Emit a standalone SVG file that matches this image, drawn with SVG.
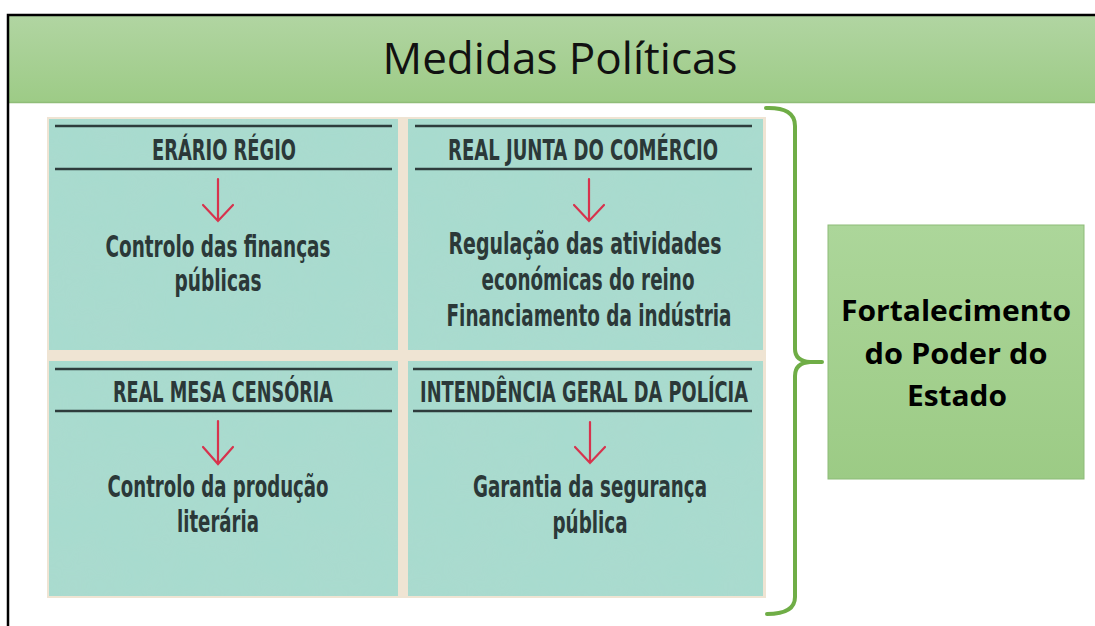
<svg xmlns="http://www.w3.org/2000/svg" width="1095" height="626" viewBox="0 0 1095 626">
  <defs>
    <linearGradient id="hdr" x1="0" y1="0" x2="0" y2="1">
      <stop offset="0" stop-color="#b1d5a2"/>
      <stop offset="1" stop-color="#9dcb86"/>
    </linearGradient>
    <linearGradient id="box" x1="0" y1="0" x2="0" y2="1">
      <stop offset="0" stop-color="#acd69a"/>
      <stop offset="1" stop-color="#9ccb85"/>
    </linearGradient>
    <filter id="tex" x="0" y="0" width="1" height="1">
      <feTurbulence type="fractalNoise" baseFrequency="0.02" numOctaves="3" seed="4" result="n"/>
      <feColorMatrix in="n" type="matrix" values="0 0 0 0 0.45  0 0 0 0 0.68  0 0 0 0 0.62  0 0 0 0.3 -0.05" result="c"/>
      <feComposite in="c" in2="SourceGraphic" operator="in" result="m"/>
      <feMerge><feMergeNode in="SourceGraphic"/><feMergeNode in="m"/></feMerge>
    </filter>
  </defs>
  <style>
    .cell { fill: #a8dbcf; }
    .rule { stroke: #2e3c3c; stroke-width: 2.5; }
    .ttl { font-family: "DejaVu Sans Condensed", "Liberation Sans", sans-serif; font-weight: bold; font-size: 29px; fill: #2b3838; text-anchor: middle; }
    .body { font-family: "DejaVu Sans Condensed", "Liberation Sans", sans-serif; font-weight: bold; font-size: 31px; fill: #2b3838; text-anchor: middle; }
    .arr { stroke: #d7334d; stroke-width: 2.2; fill: none; stroke-linecap: round; stroke-linejoin: miter; }
    .brace { stroke: #6fad46; stroke-width: 4; fill: none; stroke-linecap: round; stroke-linejoin: round; }
    .big { font-family: "Open Sans", "Noto Sans", sans-serif; font-weight: bold; font-size: 29px; fill: #000; text-anchor: middle; }
  </style>

  <rect x="0" y="0" width="1095" height="626" fill="#ffffff"/>

  <g id="header">
    <rect x="9" y="15" width="1086" height="88" fill="url(#hdr)"/>
    <line x1="9" y1="102.5" x2="1095" y2="102.5" stroke="#8fbd78" stroke-width="1.5"/>
    <text x="560" y="74" font-family="Open Sans, Noto Sans, sans-serif" font-size="43" fill="#111" text-anchor="middle" textLength="355" lengthAdjust="spacingAndGlyphs">Medidas Políticas</text>
  </g>

  <g id="frame">
    <path d="M8,626 V15 H1095" fill="none" stroke="#000" stroke-width="2.5"/>
  </g>

  <g id="panel">
    <rect x="47" y="117" width="719" height="481" fill="#efe4d3"/>
  </g>

  <g id="erario">
    <rect class="cell" x="49" y="119" width="349" height="231" filter="url(#tex)"/>
    <line class="rule" x1="55" y1="126" x2="392" y2="126"/>
    <line class="rule" x1="55" y1="169" x2="392" y2="169"/>
    <text class="ttl" transform="matrix(0.65 0 0 1 224 0)" x="0" y="160" textLength="221.5" lengthAdjust="spacingAndGlyphs">ERÁRIO RÉGIO</text>
    <path class="arr" d="M218,179 V221 M203,205 L218,221 L233,205"/>
    <text class="body" transform="matrix(0.65 0 0 1 218 0)" x="0" y="257" textLength="346.2" lengthAdjust="spacingAndGlyphs">Controlo das finanças</text>
    <text class="body" transform="matrix(0.65 0 0 1 218 0)" x="0" y="291" textLength="133.8" lengthAdjust="spacingAndGlyphs">públicas</text>
  </g>

  <g id="junta">
    <rect class="cell" x="408" y="119" width="355" height="231" filter="url(#tex)"/>
    <line class="rule" x1="415" y1="126" x2="752" y2="126"/>
    <line class="rule" x1="415" y1="169" x2="752" y2="169"/>
    <text class="ttl" transform="matrix(0.65 0 0 1 583 0)" x="0" y="160" textLength="415.4" lengthAdjust="spacingAndGlyphs">REAL JUNTA DO COMÉRCIO</text>
    <path class="arr" d="M589,179 V221 M574,205 L589,221 L604,205"/>
    <text class="body" transform="matrix(0.65 0 0 1 585 0)" x="0" y="254" textLength="420" lengthAdjust="spacingAndGlyphs">Regulação das atividades</text>
    <text class="body" transform="matrix(0.65 0 0 1 588 0)" x="0" y="290" textLength="327.7" lengthAdjust="spacingAndGlyphs">económicas do reino</text>
    <text class="body" transform="matrix(0.65 0 0 1 589 0)" x="0" y="326" textLength="438.5" lengthAdjust="spacingAndGlyphs">Financiamento da indústria</text>
  </g>

  <g id="censoria">
    <rect class="cell" x="49" y="361" width="349" height="235" filter="url(#tex)"/>
    <line class="rule" x1="55" y1="369" x2="392" y2="369"/>
    <line class="rule" x1="55" y1="411" x2="392" y2="411"/>
    <text class="ttl" transform="matrix(0.65 0 0 1 223 0)" x="0" y="402" textLength="338.5" lengthAdjust="spacingAndGlyphs">REAL MESA CENSÓRIA</text>
    <path class="arr" d="M218,421 V464 M203,447 L218,464 L233,447"/>
    <text class="body" transform="matrix(0.65 0 0 1 218 0)" x="0" y="497" textLength="340" lengthAdjust="spacingAndGlyphs">Controlo da produção</text>
    <text class="body" transform="matrix(0.65 0 0 1 218 0)" x="0" y="532" textLength="126.2" lengthAdjust="spacingAndGlyphs">literária</text>
  </g>

  <g id="policia">
    <rect class="cell" x="408" y="361" width="355" height="235" filter="url(#tex)"/>
    <line class="rule" x1="413" y1="369" x2="752" y2="369"/>
    <line class="rule" x1="413" y1="411" x2="752" y2="411"/>
    <text class="ttl" transform="matrix(0.65 0 0 1 584 0)" x="0" y="402" textLength="504.6" lengthAdjust="spacingAndGlyphs">INTENDÊNCIA GERAL DA POLÍCIA</text>
    <path class="arr" d="M590,422 V463 M575,447 L590,463 L605,447"/>
    <text class="body" transform="matrix(0.65 0 0 1 590 0)" x="0" y="497" textLength="360" lengthAdjust="spacingAndGlyphs">Garantia da segurança</text>
    <text class="body" transform="matrix(0.65 0 0 1 590 0)" x="0" y="533" textLength="115.4" lengthAdjust="spacingAndGlyphs">pública</text>
  </g>

  <g id="connectors">
    <path class="brace" d="M766,108 Q795,107 795,126 L795,349 Q795,361 810,362 L822,362 M810,362 Q795,363 795,376 L795,597 Q795,614 767,614"/>
  </g>

  <g id="fortalecimento">
    <rect x="828" y="225" width="256" height="254" fill="url(#box)" stroke="#8dbb78" stroke-width="1"/>
    <text class="big" x="956" y="321" textLength="230" lengthAdjust="spacingAndGlyphs">Fortalecimento</text>
    <text class="big" x="956" y="364" textLength="183" lengthAdjust="spacingAndGlyphs">do Poder do</text>
    <text class="big" x="957" y="406" textLength="100" lengthAdjust="spacingAndGlyphs">Estado</text>
  </g>
</svg>
